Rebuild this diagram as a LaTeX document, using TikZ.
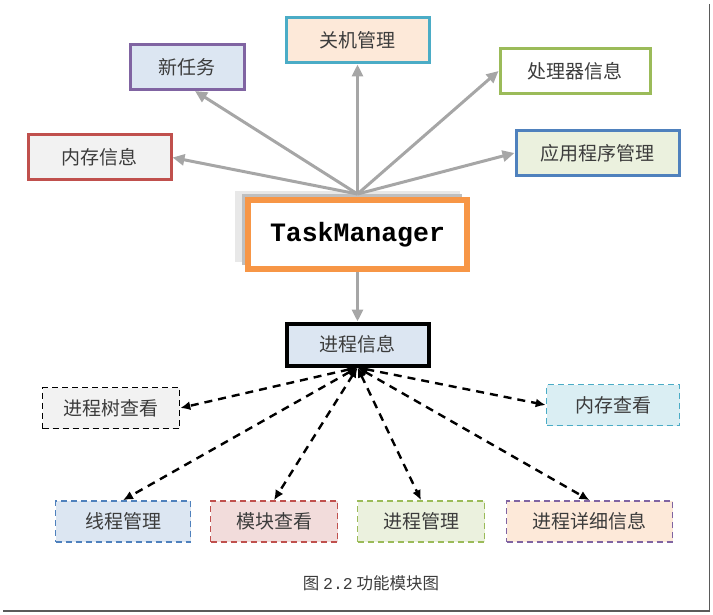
\documentclass[tikz,border=0pt]{standalone}
\usepackage{fontspec}
\setmainfont{Liberation Serif}
\newfontfamily\cjk{Noto Sans CJK SC}
\newfontfamily\codefont{Liberation Mono}
\usetikzlibrary{arrows.meta, positioning, calc, shadows}
\definecolor{edgeRed}{RGB}{192,80,77}
\definecolor{edgePurple}{RGB}{128,100,162}
\definecolor{edgeTeal}{RGB}{75,172,198}
\definecolor{edgeGreen}{RGB}{155,187,89}
\definecolor{edgeBlue}{RGB}{79,129,189}
\definecolor{edgeOrange}{RGB}{247,150,70}
\definecolor{fillGray}{RGB}{242,242,242}
\definecolor{fillBlue}{RGB}{220,230,242}
\definecolor{fillPeach}{RGB}{253,233,217}
\definecolor{fillGreen}{RGB}{235,241,222}
\definecolor{fillRed}{RGB}{242,220,219}
\definecolor{fillTeal}{RGB}{218,238,243}
\definecolor{arrGray}{RGB}{166,166,166}
\definecolor{txtGray}{RGB}{60,60,60}
\definecolor{frameGray}{RGB}{90,90,90}

\begin{document}
\begin{tikzpicture}[x=1pt, y=-1pt,
        modbox/.style={rectangle, line width=3pt, minimum height=45pt, inner sep=0pt, font=\cjk\fontsize{19}{19}\selectfont, text=txtGray},
        subbox/.style={rectangle, line width=1.6pt, dash pattern=on 6pt off 4pt, minimum height=41pt, inner sep=0pt, font=\cjk\fontsize{19}{19}\selectfont, text=txtGray},
        arr/.style={-{Triangle[length=12pt, width=11pt]}, line width=3pt, arrGray},
        darr/.style={{Latex[length=10pt, width=9pt]}-{Latex[length=10pt, width=9pt]}, line width=2.4pt, black, dash pattern=on 8pt off 6pt},
    ]
    \useasboundingbox (0,0) rectangle (713,615);
    \node[modbox, draw=edgeOrange, fill=white, line width=5pt, minimum width=220pt, minimum height=70pt,
          font=\codefont\bfseries\fontsize{26.5}{26.5}\selectfont, text=black,
          general shadow={fill=black!9, shadow xshift=-10pt, shadow yshift=8pt, shadow scale=1.02},
          general shadow={fill=black!25, shadow xshift=-6pt, shadow yshift=5pt}] at (357.5,234.5) (tm) {TaskManager};
    \draw[edgeOrange, line width=1.3pt] ([shift={(5,5)}]tm.north west) rectangle ([shift={(-5,-5)}]tm.south east);
    \node[modbox, draw=edgeRed, fill=fillGray, minimum width=143pt] at (99.5,157.5) (meminfo) {内存信息};
    \node[modbox, draw=edgePurple, fill=fillBlue, minimum width=114pt] at (187,67) (newtask) {新任务};
    \node[modbox, draw=edgeTeal, fill=fillPeach, minimum width=143pt] at (357.5,40.5) (shutdown) {关机管理};
    \node[modbox, draw=edgeGreen, fill=white, minimum width=150pt] at (575,71) (cpuinfo) {处理器信息};
    \node[modbox, draw=edgeBlue, fill=fillGreen, minimum width=163pt] at (597.5,153) (appmgr) {应用程序管理};
    \node[modbox, draw=black, fill=fillBlue, line width=4pt, minimum width=142pt, minimum height=42pt] at (357.5,344.5) (procinfo) {进程信息};
    \draw[arr] ([yshift=3pt]tm.north) -- (meminfo.east);
    \draw[arr] ([yshift=3pt]tm.north) -- ([xshift=8pt]newtask.south);
    \draw[arr] ([yshift=3pt]tm.north) -- (shutdown.south);
    \draw[arr] ([yshift=3pt]tm.north) -- (cpuinfo.west);
    \draw[arr] ([yshift=3pt]tm.north) -- (appmgr.west);
    \draw[arr] (tm.south) -- (procinfo.north);
    % second row
    \node[subbox, draw=black, fill=fillGray, minimum width=137pt] at (111,408) (tree) {进程树查看};
    \node[subbox, draw=edgeTeal, fill=fillTeal, minimum width=133pt] at (613,405) (memview) {内存查看};
    \node[subbox, draw=edgeBlue, fill=fillBlue, minimum width=135pt] at (123,521.5) (thread) {线程管理};
    \node[subbox, draw=edgeRed, fill=fillRed, minimum width=127pt] at (274,521.5) (module) {模块查看};
    \node[subbox, draw=edgeGreen, fill=fillGreen, minimum width=127pt] at (421,521.5) (procmgr) {进程管理};
    \node[subbox, draw=edgePurple, fill=fillPeach, minimum width=166pt] at (589.5,521.5) (detail) {进程详细信息};
    \draw[darr] (procinfo.south) -- (tree.east);
    \draw[darr] (procinfo.south) -- (memview.west);
    \draw[darr] (procinfo.south) -- (thread.north);
    \draw[darr] (procinfo.south) -- (module.north);
    \draw[darr] (procinfo.south) -- (procmgr.north);
    \draw[darr] (procinfo.south) -- (detail.north);
    \node[font=\cjk\fontsize{16.5}{16.5}\selectfont, text=txtGray] at (371,583) (caption) {图 {\codefont 2.2} 功能模块图};
    \draw[frameGray, line width=1.5pt] (709.5,4) -- (709.5,611) -- (3,611);
\end{tikzpicture}
\end{document}
